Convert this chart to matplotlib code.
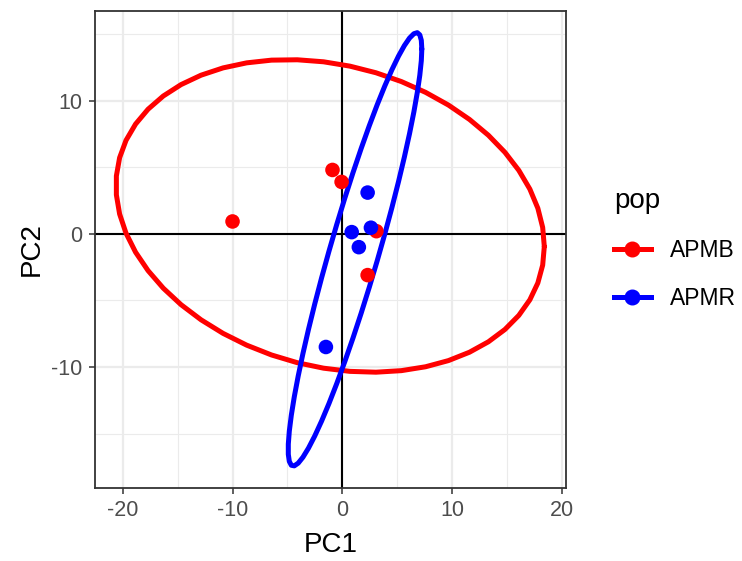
import numpy as np
import matplotlib
matplotlib.use("Agg")
import matplotlib.pyplot as plt
from matplotlib.lines import Line2D

plt.rcParams['font.family'] = ['Liberation Sans', 'DejaVu Sans']

# ---- data ----
groups = ["APMB", "APMR"]
colors = {"APMB": "#FF0000", "APMR": "#0000FF"}
apmb_pc1 = [-10.0, -0.9, -0.07, 3.1, 2.3]
apmb_pc2 = [0.93, 4.8, 3.9, 0.2, -3.1]
apmr_pc1 = [2.3, 0.85, 2.6, 1.5, -1.5]
apmr_pc2 = [3.1, 0.13, 0.46, -1.0, -8.5]
xticks = [-20, -10, 0, 10, 20]
yticks = [-10, 0, 10]
level = 0.95


def ellipse_path(px, py, level=0.95, segments=51):
    # normal-theory confidence ellipse (like ggplot2 stat_ellipse(type = "norm"))
    x = np.column_stack([px, py])
    n = x.shape[0]
    center = x.mean(0)
    shape = np.cov(x, rowvar=False)
    dfn, dfd = 2, n - 1
    fq = dfd / 2.0 * ((1 - level) ** (-2.0 / dfd) - 1)  # qf(level, 2, dfd)
    radius = np.sqrt(dfn * fq)
    R = np.linalg.cholesky(shape).T
    ang = np.arange(segments + 1) * 2 * np.pi / segments
    uc = np.column_stack([np.cos(ang), np.sin(ang)])
    e = center + radius * (uc @ R)
    return e[:, 0], e[:, 1]


data = {"APMB": (apmb_pc1, apmb_pc2), "APMR": (apmr_pc1, apmr_pc2)}

fig = plt.figure(figsize=(7.42, 5.61), dpi=100)
ax = fig.add_axes([0.128, 0.131, 0.7624 - 0.128, 0.9804 - 0.131])

ax.set_axisbelow(True)
ax.axhline(0, color="black", lw=1.5, zorder=1)
ax.axvline(0, color="black", lw=1.5, zorder=1)

allx, ally = [], []
for g in groups:
    px, py = data[g]
    ex, ey = ellipse_path(px, py, level)
    ax.plot(ex, ey, color=colors[g], lw=3.6, zorder=2,
            solid_capstyle="round", solid_joinstyle="round")
    allx += list(ex) + list(px)
    ally += list(ey) + list(py)
for g in groups:
    px, py = data[g]
    ax.scatter(px, py, s=110, color=colors[g], edgecolors="none", zorder=3)

xmin, xmax = min(allx), max(allx)
ymin, ymax = min(ally), max(ally)
dx, dy = (xmax - xmin) * 0.05, (ymax - ymin) * 0.05
ax.set_xlim(xmin - dx, xmax + dx)
ax.set_ylim(ymin - dy, ymax + dy)

ax.set_xticks(xticks)
ax.set_yticks(yticks)
ax.set_xticks([-15, -5, 5, 15], minor=True)
ax.set_yticks([-15, -5, 5, 15], minor=True)
ax.grid(which="major", color="#EBEBEB", lw=1.6)
ax.grid(which="minor", color="#EBEBEB", lw=0.8)
ax.tick_params(which="minor", length=0)
ax.tick_params(which="major", direction="out", length=4, width=1.1,
               color="#333333", labelsize=15.5, labelcolor="#4D4D4D", pad=5)
ax.set_xticklabels([str(t) for t in xticks])
ax.set_yticklabels([str(t) for t in yticks])
for s in ax.spines.values():
    s.set_color("#333333")
    s.set_linewidth(1.3)

ax.set_xlabel("PC1", fontsize=20, labelpad=8)
ax.set_ylabel("PC2", fontsize=20, labelpad=5)

handles = [Line2D([0], [0], color=colors[g], lw=3.6, marker="o", markersize=10.5)
           for g in groups]
leg = fig.legend(handles, groups, title="pop", loc="upper left",
                 bbox_to_anchor=(0.8275, 0.665), frameon=False, fontsize=16.5,
                 title_fontsize=20, handlelength=1.6, labelspacing=1.1,
                 handletextpad=0.83, borderaxespad=0, borderpad=0)
leg._legend_box.align = "left"

fig.savefig("out.png", dpi=100)
